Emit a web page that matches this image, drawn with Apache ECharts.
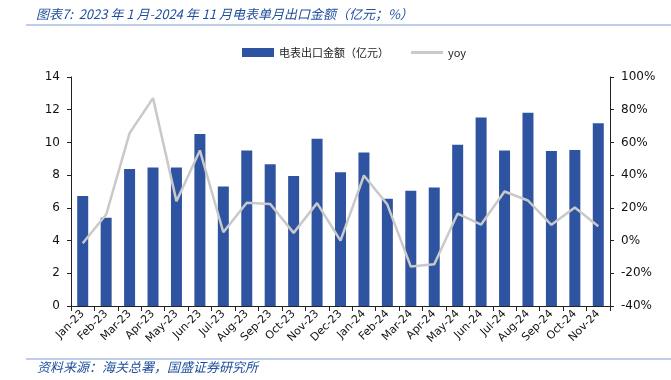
<!DOCTYPE html>
<html><head><meta charset="utf-8">
<script src="https://cdn.jsdelivr.net/npm/echarts@6/dist/echarts.min.js"></script>
<style>html,body{margin:0;padding:0;background:#fff}#c{width:671px;height:380px}</style>
</head><body><div id="c"></div>
<script>
const categories = ['Jan-23','Feb-23','Mar-23','Apr-23','May-23','Jun-23','Jul-23','Aug-23','Sep-23','Oct-23','Nov-23','Dec-23','Jan-24','Feb-24','Mar-24','Apr-24','May-24','Jun-24','Jul-24','Aug-24','Sep-24','Oct-24','Nov-24'];
const exportValue = [6.72,5.40,8.37,8.46,8.46,10.51,7.30,9.50,8.66,7.95,10.23,8.17,9.39,6.56,7.05,7.24,9.86,11.53,9.50,11.82,9.47,9.54,11.17];
const yoy = [-1.6,15.9,65.7,87.1,24.1,55.1,5.1,23.1,22.4,4.7,22.9,0.0,39.8,22.0,-15.9,-14.5,16.5,9.8,30.0,24.5,9.6,20.2,8.8];
const leftTicks = {min:0,max:14,interval:2};
const rightTicks = {min:-40,max:100,interval:20};

const chart = echarts.init(document.getElementById('c'));
chart.setOption({
  animation:false,
  title:{text:'图表7:  2023 年 1 月-2024 年 11 月电表单月出口金额（亿元；%）',left:31,top:3,
    textStyle:{fontSize:13,fontStyle:'italic',fontWeight:'normal',color:'#1F4E9C',fontFamily:'Noto Sans CJK SC'}},
  graphic:[
    {type:'line',shape:{x1:26,y1:25,x2:671,y2:25},style:{stroke:'#A9BEE0',lineWidth:1.5}},
    {type:'line',shape:{x1:26,y1:359,x2:671,y2:359},style:{stroke:'#7F9DD3',lineWidth:1.2}},
    {type:'text',left:37,top:361,style:{text:'资料来源：海关总署，国盛证券研究所',fontSize:13,fontStyle:'italic',fill:'#1F4E9C',fontFamily:'Noto Sans CJK SC'}}
  ],
  legend:{top:42,left:237,itemGap:22,itemWidth:32,itemHeight:9,
    textStyle:{fontSize:11,color:'#222',fontFamily:'Noto Sans CJK SC'},
    data:[{name:'电表出口金额（亿元）',icon:'rect'},{name:'yoy',icon:'path://M0,0H32V3H0Z'}]},
  grid:{left:71,right:61,top:77,bottom:74,containLabel:false},
  xAxis:{type:'category',data:categories,
    axisLine:{lineStyle:{color:'#222'}},
    axisTick:{show:true,alignWithLabel:false,length:5,lineStyle:{color:'#222'}},
    axisLabel:{rotate:45,interval:0,fontSize:11,color:'#111',fontFamily:'DejaVu Sans',margin:6}},
  yAxis:[
    {type:'value',min:leftTicks.min,max:leftTicks.max,interval:leftTicks.interval,
     splitLine:{show:false},
     axisLine:{show:true,lineStyle:{color:'#222'}},
     axisTick:{show:true,length:4,inside:false,lineStyle:{color:'#222'}},
     axisLabel:{fontSize:12,color:'#111',fontFamily:'DejaVu Sans',margin:11}},
    {type:'value',min:rightTicks.min,max:rightTicks.max,interval:rightTicks.interval,
     splitLine:{show:false},
     axisLine:{show:true,lineStyle:{color:'#222'}},
     axisTick:{show:true,length:4,lineStyle:{color:'#222'}},
     axisLabel:{fontSize:12,color:'#111',fontFamily:'DejaVu Sans',margin:11,formatter:'{value}%'}}
  ],
  series:[
    {name:'电表出口金额（亿元）',type:'bar',data:exportValue,barWidth:11,
     itemStyle:{color:'#2E54A1'}},
    {name:'yoy',type:'line',yAxisIndex:1,data:yoy,symbol:'none',
     lineStyle:{color:'#C9C9C9',width:2.5},itemStyle:{color:'#C9C9C9'}}
  ]
});
</script></body></html>
